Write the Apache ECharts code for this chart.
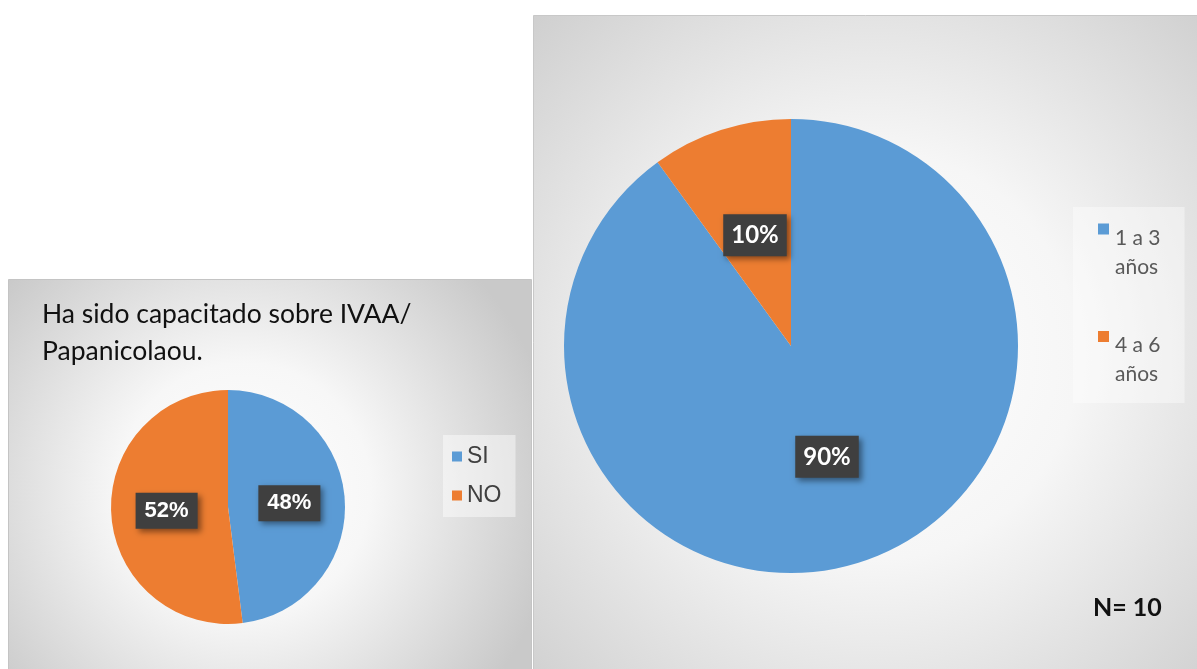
<!DOCTYPE html>
<html>
<head>
<meta charset="utf-8">
<title>Capacitación IVAA / Papanicolaou</title>
<script src="https://cdn.jsdelivr.net/npm/echarts@6/dist/echarts.min.js"></script>
<style>
  html, body { margin: 0; padding: 0; background: #ffffff; }
  #chart { width: 1197px; height: 669px; }
</style>
</head>
<body>
<div id="chart"></div>
<script>
// Left chart: training received
const trainingCategories = ['SI', 'NO'];
const trainingValues = [48, 52];
// Right chart: years of experience
const yearsCategories = ['1 a 3 años', '4 a 6 años'];
const yearsValues = [90, 10];
const sampleNote = 'N= 10';
const trainingTitle = 'Ha sido capacitado sobre IVAA/\nPapanicolaou.';

const BLUE = '#5B9BD5';
const ORANGE = '#ED7D31';
const SLICE_COLORS = [BLUE, ORANGE];

const chart = echarts.init(document.getElementById('chart'), null, { renderer: 'canvas' });

function toSlices(names, values) {
  return names.map((n, i) => ({ name: n, value: values[i], itemStyle: { color: SLICE_COLORS[i] } }));
}

// dark value badge placed inside each slice
const darkLabel = (font, size, pad) => ({
  show: true,
  position: 'inside',
  formatter: '{c}%',
  color: '#ffffff',
  fontFamily: font,
  fontWeight: 'bold',
  fontSize: size,
  backgroundColor: '#3f3f3f',
  padding: pad,
  shadowColor: 'rgba(0,0,0,0.45)',
  shadowBlur: 6,
  shadowOffsetX: 3,
  shadowOffsetY: 3
});

const option = {
  animation: false,
  backgroundColor: '#ffffff',
  graphic: [
    {
      type: 'rect', z: -10,
      shape: { x: 8.5, y: 279.5, width: 523, height: 420 },
      style: {
        fill: new echarts.graphic.RadialGradient(0.45, 0.5, 0.75, [
          { offset: 0, color: '#ffffff' },
          { offset: 0.4, color: '#f7f7f7' },
          { offset: 1, color: '#c9c9c9' }
        ]),
        stroke: '#c4c4c4', lineWidth: 1
      }
    },
    {
      type: 'rect', z: -10,
      shape: { x: 533.5, y: 15.5, width: 680, height: 680 },
      style: {
        fill: new echarts.graphic.RadialGradient(0.5, 0.5, 0.75, [
          { offset: 0, color: '#ffffff' },
          { offset: 0.4, color: '#f6f6f6' },
          { offset: 1, color: '#cbcbcb' }
        ]),
        stroke: '#c8c8c8', lineWidth: 1
      }
    },
    {
      type: 'text', z: 10,
      left: 42, top: 296,
      style: {
        text: trainingTitle,
        fill: '#111111',
        font: '26.5px Lato',
        lineHeight: 37
      }
    },
    {
      type: 'text', z: 10,
      left: 1093, top: 595,
      style: {
        text: sampleNote,
        fill: '#111111',
        font: 'bold 25px Lato'
      }
    }
  ],
  legend: [
    {
      data: trainingCategories,
      orient: 'vertical',
      left: 443, top: 435,
      padding: [10, 14, 10, 9],
      backgroundColor: 'rgba(255,255,255,0.45)',
      itemWidth: 10, itemHeight: 10,
      itemGap: 16,
      icon: 'rect',
      textStyle: { color: '#404040', fontFamily: 'Liberation Sans', fontSize: 23 }
    },
    {
      data: yearsCategories,
      orient: 'vertical',
      left: 1073, top: 207,
      padding: [16, 24, 18, 20],
      backgroundColor: 'rgba(255,255,255,0.4)',
      icon: 'none',
      itemWidth: 0, itemHeight: 0,
      itemGap: 53,
      formatter: function (name) {
        const parts = name.split(' años');
        const key = name === yearsCategories[0] ? 'sq0' : 'sq1';
        return '{' + key + '|}{t|' + parts[0] + '}\n{pad|}{t|años}';
      },
      textStyle: {
        rich: {
          sq0: { width: 11, height: 11, backgroundColor: BLUE, verticalAlign: 'top' },
          sq1: { width: 11, height: 11, backgroundColor: ORANGE, verticalAlign: 'top' },
          pad: { width: 11 },
          t: { color: '#595959', fontFamily: 'Lato', fontSize: 21, lineHeight: 29, padding: [0, 0, 0, 6] }
        }
      }
    }
  ],
  series: [
    {
      type: 'pie',
      name: 'Capacitación',
      center: [228, 507],
      radius: 117,
      startAngle: 90,
      clockwise: true,
      silent: true,
      itemStyle: { borderWidth: 0 },
      label: darkLabel('Liberation Sans', 22, [8, 9, 6, 9]),
      labelLine: { show: false },
      data: toSlices(trainingCategories, trainingValues)
    },
    {
      type: 'pie',
      name: 'Años',
      center: [791, 346],
      radius: 227,
      startAngle: 90,
      clockwise: true,
      silent: true,
      itemStyle: { borderWidth: 0 },
      label: darkLabel('Lato', 24, [10, 8, 8, 8]),
      labelLine: { show: false },
      data: toSlices(yearsCategories, yearsValues)
    }
  ]
};

chart.setOption(option);
</script>
</body>
</html>
